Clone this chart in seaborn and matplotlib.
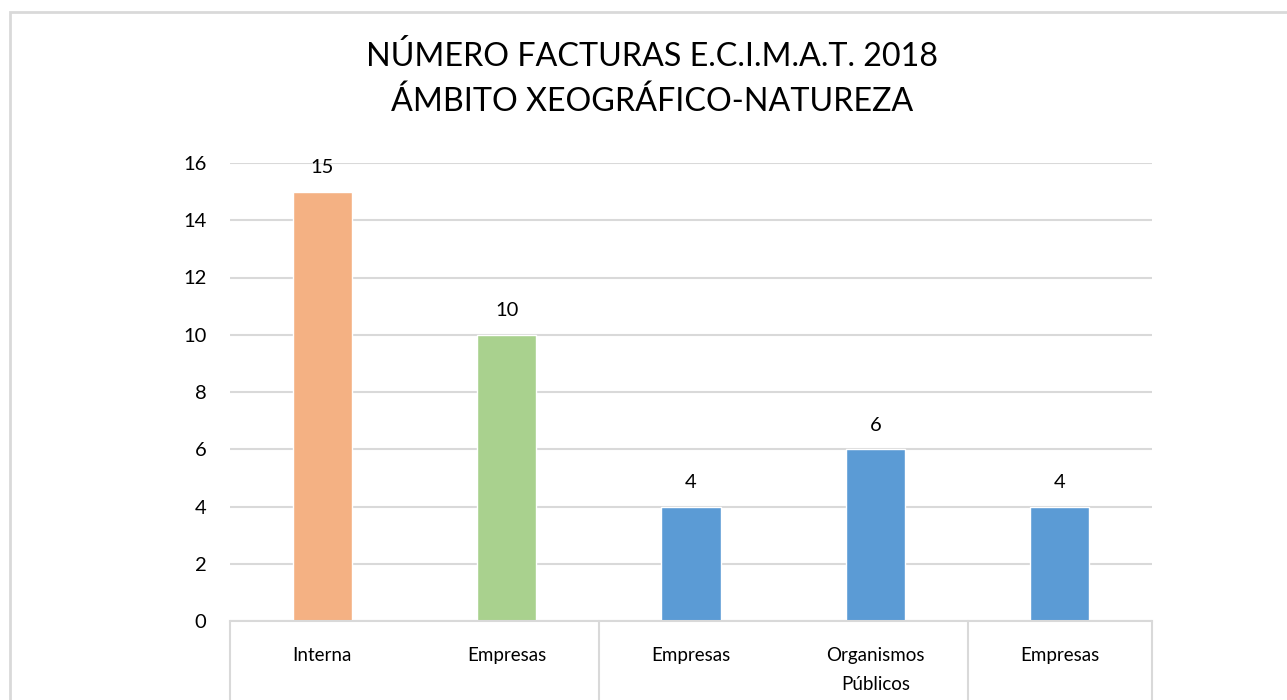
import matplotlib
matplotlib.use("Agg")
import matplotlib.pyplot as plt
import seaborn as sns
import pandas as pd
from matplotlib.patches import Rectangle

categories = ["Interna", "Empresas", "Empresas", "Organismos\nPúblicos", "Empresas"]
values = [15, 10, 4, 6, 4]
bar_colors = ["#F4B183", "#A9D18E", "#5B9BD5", "#5B9BD5", "#5B9BD5"]
yticks = [0, 2, 4, 6, 8, 10, 12, 14, 16]
title = "NÚMERO FACTURAS E.C.I.M.A.T. 2018\nÁMBITO XEOGRÁFICO-NATUREZA"

sns.set_theme(style="white")
plt.rcParams['font.family'] = ['Lato', 'DejaVu Sans']

df = pd.DataFrame({"key": [str(i) for i in range(len(values))], "value": values})

fig = plt.figure(figsize=(12.87, 7.0), dpi=100)
W, H = 1287, 700
ax = fig.add_axes([230 / W, 1 - 621 / H, (1152 - 230) / W, (621 - 163) / H])

sns.barplot(data=df, x="key", y="value", hue="key", palette=bar_colors,
            width=0.32, legend=False, ax=ax, saturation=1)

ax.set_ylim(0, 16)
ax.set_xlim(-0.5, len(values) - 0.5)
ax.set_yticks(yticks)
ax.set_yticklabels([str(t) for t in yticks], fontsize=14.5, color="#000000")
ax.tick_params(axis="y", length=0, pad=17)
ax.set_xticks(range(len(values)))
ax.set_xticklabels(categories, fontsize=13.5, color="#000000", linespacing=1.8)
ax.tick_params(axis="x", length=0, pad=19)
ax.set_xlabel("")
ax.set_ylabel("")

ax.grid(axis="y", color="#d9d9d9", linewidth=1.5)
ax.set_axisbelow(True)
for s in ["top", "right", "left"]:
    ax.spines[s].set_visible(False)
ax.spines["bottom"].set_color("#d9d9d9")
ax.spines["bottom"].set_linewidth(1.5)

for c in ax.containers:
    ax.bar_label(c, fmt="%g", padding=11, fontsize=14.5, color="#000000")

# hierarchical category separators
for xs in [-0.5, 1.5, 3.5, 4.5]:
    ax.plot([xs, xs], [0, -0.3], transform=ax.get_xaxis_transform(),
            color="#d9d9d9", linewidth=1.5, clip_on=False)

fig.text(0.5 * (368 + 937) / W, 1 - 79 / H, title, ha="center", va="center",
         fontsize=23.2, color="#000000", linespacing=1.6)

fig.patches.append(Rectangle((10 / W, -0.1), 1.2, 1 - 12 / H + 0.1,
                             transform=fig.transFigure, fill=False,
                             edgecolor="#d9d9d9", linewidth=2))

fig.savefig("out.png", dpi=100, facecolor="white")
